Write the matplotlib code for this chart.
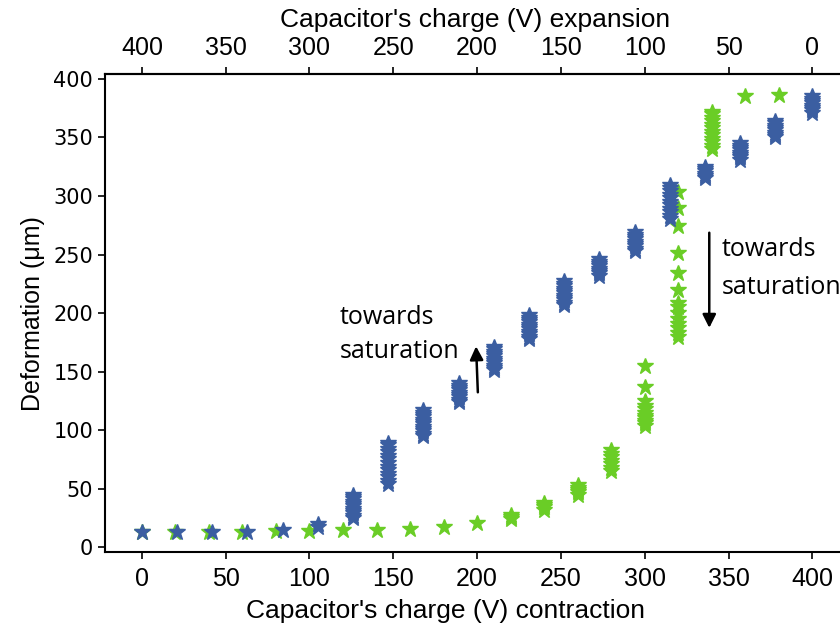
import matplotlib
matplotlib.use("Agg")
import matplotlib.pyplot as plt
from matplotlib import font_manager

# contraction sweep (blue): applied voltage and the deformation readings taken at each step
blue_v = [0, 21, 42, 63, 84, 105, 126, 147, 168, 189, 210, 231, 252, 273, 294, 315, 336, 357, 378, 400]
blue_um = [
    [13],
    [13],
    [13],
    [13],
    [15],
    [17, 20],
    [25, 27, 29, 31, 33, 35, 37, 39, 41, 43, 45],
    [54, 57, 60, 63, 66, 69, 72, 75, 78, 81, 84, 87, 89],
    [95, 97, 99, 101, 103, 105, 107, 109, 111, 113, 115, 117],
    [124, 126, 128, 130, 132, 134, 136, 138, 140],
    [151, 153, 155, 157, 159, 161, 163, 165, 167, 169, 171],
    [178, 180, 182, 184, 186, 188, 190, 192, 194, 196, 198],
    [207, 209, 211, 213, 215, 217, 219, 221, 223, 225, 227],
    [232, 234, 236, 238, 240, 242, 244, 246],
    [253, 255, 257, 259, 261, 263, 265, 267, 269],
    [280, 283, 286, 289, 292, 295, 298, 301, 304, 307, 309],
    [315, 317, 319, 321, 323, 325],
    [331, 333, 335, 337, 339, 341, 343, 345],
    [350, 352, 354, 356, 358, 360, 362, 364],
    [371, 373, 375, 377, 379, 381, 383, 385],
]

# expansion sweep (green)
green_v = [0, 20, 40, 60, 80, 100, 120, 140, 160, 180, 200, 220, 240, 260, 280, 300, 320, 340, 360, 380]
green_um = [
    [13],
    [13],
    [13],
    [13],
    [13.5],
    [14],
    [15],
    [15],
    [15.5],
    [17.5],
    [21],
    [24, 26, 28],
    [32, 34, 36, 38],
    [45, 47, 49, 51, 53],
    [65, 68, 71, 74, 77, 80, 83],
    [104, 106, 108, 110, 112, 115, 118, 121, 125, 137, 155],
    [180, 183, 187, 191, 195, 200, 205, 209, 220, 234, 251, 274, 290, 303],
    [340, 343, 346, 349, 352, 355, 358, 361, 364, 367, 370, 372],
    [385],
    [386],
]

bottom_ticks = [0, 50, 100, 150, 200, 250, 300, 350, 400]
top_ticks = [0, 50, 100, 150, 200, 250, 300, 350, 400]
y_ticks = [0, 50, 100, 150, 200, 250, 300, 350, 400]

available = {f.name for f in font_manager.fontManager.ttflist}
narrow = "Liberation Sans Narrow" if "Liberation Sans Narrow" in available else "Liberation Sans"
note_font = "Open Sans" if "Open Sans" in available else "DejaVu Sans"

blue = "#3b5ea1"
green = "#6acd26"

fig = plt.figure(figsize=(8.4, 6.32), dpi=100)
ax = fig.add_axes([0.125, 0.1266, 0.882, 0.756])

gx, gy = [], []
for v, vals in zip(green_v, green_um):
    for u in vals:
        gx.append(v)
        gy.append(u)
bx, by = [], []
for v, vals in zip(blue_v, blue_um):
    for u in vals:
        bx.append(v)
        by.append(u)

ax.plot(gx, gy, linestyle="none", marker="*", markersize=12, color=green, zorder=2)
ax.plot(bx, by, linestyle="none", marker="*", markersize=12, color=blue, zorder=3)

ax.set_xlim(-22, 420)
ax.set_ylim(-4, 404)

ax.set_xticks(bottom_ticks)
ax.set_yticks(y_ticks)
for lbl in ax.get_xticklabels():
    lbl.set_fontfamily(narrow)
    lbl.set_fontsize(18)
ax.tick_params(axis="y", labelsize=15, length=5, width=1.2)
ax.tick_params(axis="x", length=5, width=1.2, pad=6)
ax.set_xlabel("Capacitor's charge (V) contraction", fontfamily=narrow, fontsize=19)
ax.xaxis.set_label_coords(0.46, -0.098)
ax.set_ylabel("Deformation (\u03bcm)", fontfamily="Liberation Sans", fontsize=18, labelpad=6)

top = ax.secondary_xaxis("top", functions=(lambda v: 400 - v, lambda v: 400 - v))
top.set_xticks(top_ticks)
for lbl in top.get_xticklabels():
    lbl.set_fontfamily(narrow)
    lbl.set_fontsize(18)
top.tick_params(length=5, width=1.2, pad=5)
top.set_xlabel("Capacitor's charge (V) expansion", fontfamily=narrow, fontsize=19, labelpad=7)

for s in ax.spines.values():
    s.set_linewidth(1.5)
top.spines["top"].set_linewidth(1.5)

# direction of travel for each sweep
ax.annotate("", xy=(199.3, 174), xytext=(200.5, 130),
            arrowprops=dict(arrowstyle="-|>", color="black", lw=1.8, mutation_scale=20))
ax.annotate("", xy=(338.5, 185), xytext=(338.5, 271),
            arrowprops=dict(arrowstyle="-|>", color="black", lw=1.8, mutation_scale=20))

ax.text(118, 196, "towards", fontfamily=note_font, fontsize=18, va="center", ha="left")
ax.text(118, 167, "saturation", fontfamily=note_font, fontsize=18, va="center", ha="left")
ax.text(346, 254, "towards", fontfamily=note_font, fontsize=18, va="center", ha="left")
ax.text(346, 222, "saturation", fontfamily=note_font, fontsize=18, va="center", ha="left")

fig.savefig("out.png", dpi=100)
